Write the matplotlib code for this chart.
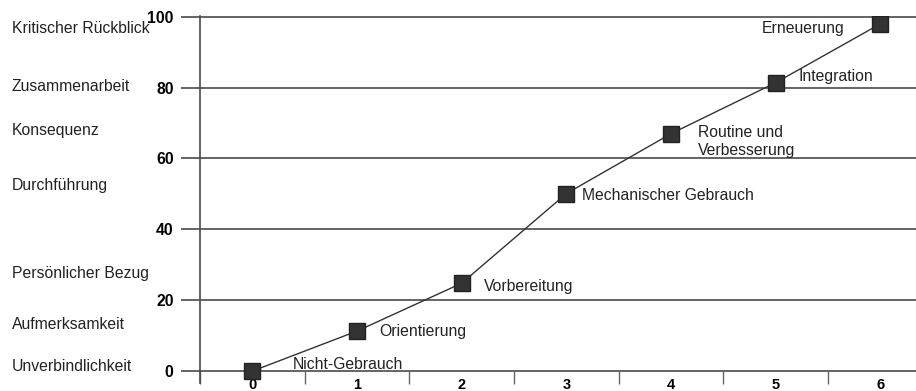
import numpy as np
import matplotlib.pyplot as plt
import matplotlib.transforms as mtransforms

plt.rcParams['font.family'] = ['Liberation Sans', 'DejaVu Sans']

# stages of use (x) and level of use (y)
stages = [0, 1, 2, 3, 4, 5, 6]
levels = [0, 11.3, 24.8, 50.1, 67, 81.4, 98]
stage_names = ["Nicht-Gebrauch", "Orientierung", "Vorbereitung", "Mechanischer Gebrauch",
               "Routine und\nVerbesserung", "Integration", "Erneuerung"]

# left-hand scale labels and the level they sit at
side_labels = ["Kritischer Rückblick", "Zusammenarbeit", "Konsequenz", "Durchführung",
               "Persönlicher Bezug", "Aufmerksamkeit", "Unverbindlichkeit"]
side_levels = [96.6, 80.2, 68.0, 52.4, 27.6, 13.2, 1.4]

yticks = [0, 20, 40, 60, 80, 100]

# label offsets relative to each marker (in stage units / level units)
label_dx = [0.39, 0.21, 0.21, 0.15, 0.26, 0.22, -1.13]
label_dy = [2.0, 0.0, -0.9, -0.5, -2.2, 1.7, -1.4]

FS = 11.3

fig = plt.figure(figsize=(9.16, 3.91), dpi=100)
ax = fig.add_axes([0.2183, 0.02, 0.7817, 0.939])

ax.set_xlim(-0.5, 6.34)
ax.set_ylim(-3.4, 100.2)

for y in yticks:
    ax.axhline(y, color='#4a4a4a', lw=1.2, zorder=1)

ax.plot(stages, levels, color='#333333', lw=1.0, zorder=2)
ax.plot(stages, levels, ls='none', marker='s', markersize=11,
        markerfacecolor='#333333', markeredgecolor='#222222', zorder=3)

for x, y, name, dx, dy in zip(stages, levels, stage_names, label_dx, label_dy):
    ax.text(x + dx, y + dy, name, fontsize=FS, color='#222222',
            ha='left', va='center', linespacing=1.2)

trans = mtransforms.blended_transform_factory(fig.transFigure, ax.transData)
for name, y in zip(side_labels, side_levels):
    ax.text(0.013, y, name, transform=trans, fontsize=FS, color='#222222',
            ha='left', va='center')

for s in ['top', 'right']:
    ax.spines[s].set_visible(False)
ax.spines['left'].set_color('#4a4a4a')
ax.spines['left'].set_linewidth(1.2)
ax.spines['bottom'].set_position(('data', 0))
ax.spines['bottom'].set_visible(False)

ax.set_yticks(yticks)
ax.set_yticklabels([str(v) for v in yticks], fontweight='bold', fontsize=FS)
ax.tick_params(axis='y', length=14, width=1.2, color='#4a4a4a', pad=5)

ax.set_xticks(stages)
ax.set_xticklabels([str(s) for s in stages], fontweight='bold', fontsize=10.5)
ax.set_xticks(np.arange(-0.5, 6.5, 1.0), minor=True)
ax.tick_params(axis='x', which='major', length=0, pad=5)
ax.tick_params(axis='x', which='minor', length=9, width=1.0, color='#666666')

fig.savefig('out.png', dpi=100)
